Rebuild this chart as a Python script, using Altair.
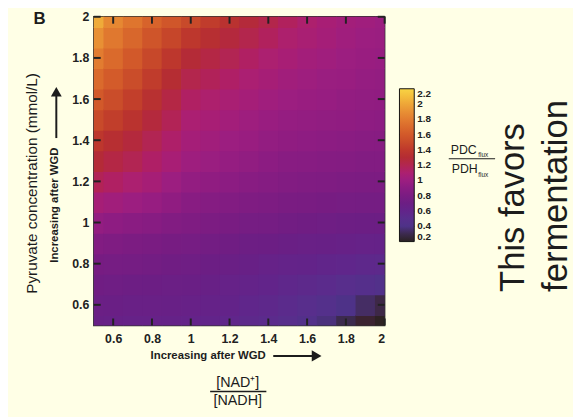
import altair as alt
import pandas as pd

FONT = "Liberation Sans"
INK = "#1c1c1c"

# [NAD+]/[NADH] (x) and pyruvate concentration mmol/L (y) grid
nad_ratio = [0.5, 0.6, 0.7, 0.8, 0.9, 1.0, 1.1, 1.2, 1.3, 1.4, 1.5, 1.6, 1.7, 1.8, 1.9, 2.0]
pyruvate = [0.5, 0.6, 0.7, 0.8, 0.9, 1.0, 1.1, 1.2, 1.3, 1.4, 1.5, 1.6, 1.7, 1.8, 1.9, 2.0]

# PDC_flux / PDH_flux; one list per NAD ratio, pyruvate ascending
ratio_by_nad = [
    [.66, .69, .73, .78, .85, .95, 1.06, 1.18, 1.29, 1.39, 1.50, 1.60, 1.70, 1.80, 1.90, 2.02],
    [.65, .68, .72, .77, .83, .92, 1.03, 1.14, 1.24, 1.33, 1.43, 1.52, 1.61, 1.70, 1.78, 1.86],
    [.64, .67, .71, .76, .81, .90, 1.00, 1.10, 1.19, 1.27, 1.36, 1.44, 1.52, 1.60, 1.68, 1.76],
    [.64, .67, .70, .75, .80, .88, .97, 1.06, 1.13, 1.19, 1.27, 1.34, 1.42, 1.49, 1.57, 1.66],
    [.63, .66, .69, .73, .78, .85, .93, 1.00, 1.07, 1.12, 1.18, 1.24, 1.31, 1.39, 1.48, 1.58],
    [.62, .65, .68, .72, .77, .83, .89, .95, 1.01, 1.05, 1.09, 1.14, 1.21, 1.29, 1.39, 1.50],
    [.60, .63, .66, .70, .75, .81, .87, .93, .99, 1.03, 1.07, 1.11, 1.17, 1.24, 1.33, 1.42],
    [.58, .61, .64, .68, .73, .79, .85, .91, .96, 1.00, 1.04, 1.08, 1.13, 1.19, 1.27, 1.35],
    [.55, .58, .62, .66, .71, .77, .83, .89, .94, .98, 1.01, 1.05, 1.09, 1.14, 1.21, 1.28],
    [.53, .56, .60, .64, .70, .76, .82, .87, .91, .95, .98, 1.02, 1.06, 1.10, 1.16, 1.22],
    [.50, .53, .57, .62, .68, .74, .80, .85, .89, .93, .96, 1.00, 1.03, 1.07, 1.11, 1.16],
    [.45, .50, .55, .61, .67, .73, .79, .84, .88, .92, .95, .98, 1.01, 1.04, 1.08, 1.11],
    [.38, .46, .53, .59, .66, .72, .78, .83, .87, .91, .94, .97, .99, 1.02, 1.05, 1.07],
    [.30, .40, .50, .58, .65, .71, .77, .82, .86, .90, .93, .95, .98, 1.00, 1.02, 1.04],
    [.25, .34, .47, .56, .64, .70, .76, .81, .85, .89, .92, .94, .96, .98, 1.00, 1.02],
    [.21, .29, .44, .55, .63, .70, .76, .81, .85, .88, .91, .93, .95, .97, .99, 1.00],
]

tick_vals = [0.6, 0.8, 1.0, 1.2, 1.4, 1.6, 1.8, 2.0]
legend_vals = [0.2, 0.4, 0.6, 0.8, 1.0, 1.2, 1.4, 1.6, 1.8, 2.0, 2.2]
legend_inner = [0.4, 0.6, 0.8, 1.0, 1.2, 1.4, 1.6, 1.8, 2.0]

stop_values = [0.2, 0.3, 0.4, 0.5, 0.6, 0.7, 0.8, 0.9, 1.0, 1.1, 1.2,
               1.3, 1.4, 1.5, 1.6, 1.7, 1.8, 1.9, 2.0, 2.1, 2.2]
stop_colors = ["#2a2222", "#3c2a4e", "#4e3288", "#582e8c", "#62248a", "#6c1e84",
               "#7a1c82", "#8a1c82", "#9c1e80", "#ac2070", "#b22650", "#b42c34",
               "#be382c", "#c84a2a", "#d2592a", "#da6a2c", "#e27c30", "#e89034",
               "#eea638", "#f4be3c", "#f8d444"]

half = 0.05
rows = []
for i, xv in enumerate(nad_ratio):
    for j, yv in enumerate(pyruvate):
        rows.append({"x": round(xv - half, 3), "x2": round(xv + half + 0.004, 3),
                     "y": round(yv - half - 0.004, 3), "y2": round(yv + half, 3),
                     "r": ratio_by_nad[i][j]})
df = pd.DataFrame(rows)

W, H = 295, 313
xscale = alt.Scale(domain=[0.5, 2.0], nice=False, zero=False)
yscale = alt.Scale(domain=[0.5, 2.0], nice=False, zero=False)
cscale = alt.Scale(domain=stop_values, range=stop_colors, clamp=True)

LEG_X, LEG_Y, LEG_LEN, LEG_T = 310, 73, 155, 15

heat = alt.Chart(df).mark_rect(clip=True).encode(
    x=alt.X("x:Q", scale=xscale, title=None,
            axis=alt.Axis(values=tick_vals, format=".1~f", ticks=False, tickSize=0, domain=False,
                          grid=False, labelFont=FONT, labelFontSize=12.5, labelFontWeight="bold",
                          labelColor="#222", labelPadding=7)),
    x2="x2:Q",
    y=alt.Y("y:Q", scale=yscale, title=None,
            axis=alt.Axis(values=tick_vals, format=".1~f", ticks=False, tickSize=0, domain=False,
                          grid=False, labelFont=FONT, labelFontSize=12.5, labelFontWeight="bold",
                          labelColor="#222", labelPadding=5)),
    y2="y2:Q",
    color=alt.Color("r:Q", title=None, scale=cscale,
                    legend=alt.Legend(orient="none", legendX=LEG_X, legendY=LEG_Y,
                                      direction="vertical", gradientLength=LEG_LEN,
                                      gradientThickness=LEG_T, values=legend_vals,
                                      format=".1~f", labelFont=FONT, labelFontSize=10,
                                      labelFontWeight="bold", labelColor="#222",
                                      labelOffset=3, labelOverlap=False,
                                      gradientStrokeColor="#111", gradientStrokeWidth=1,
                                      padding=0)),
)

tick_df = pd.DataFrame({"v": tick_vals})
tk = dict(color="#222", strokeWidth=2)
bottom_ticks = alt.Chart(tick_df).mark_rule(**tk).encode(
    x=alt.X("v:Q", scale=xscale), y=alt.value(H), y2=alt.value(H - 7))
top_ticks = alt.Chart(tick_df).mark_rule(**tk).encode(
    x=alt.X("v:Q", scale=xscale), y=alt.value(0), y2=alt.value(7))
left_ticks = alt.Chart(tick_df).mark_rule(**tk).encode(
    y=alt.Y("v:Q", scale=yscale), x=alt.value(0), x2=alt.value(7))
right_ticks = alt.Chart(tick_df).mark_rule(**tk).encode(
    y=alt.Y("v:Q", scale=yscale), x=alt.value(W), x2=alt.value(W - 7))

one = pd.DataFrame({"t": [""]})


def txt(s, x, y, **kw):
    return alt.Chart(pd.DataFrame({"t": [s]})).mark_text(font=FONT, color=INK, **kw).encode(
        text="t:N", x=alt.value(x), y=alt.value(y))


def hrule(x1, x2, y, w=2, **kw):
    return alt.Chart(one).mark_rule(color=INK, strokeWidth=w, **kw).encode(
        x=alt.value(x1), x2=alt.value(x2), y=alt.value(y))


def vrule(x, y1, y2, w=2):
    return alt.Chart(one).mark_rule(color=INK, strokeWidth=w).encode(
        x=alt.value(x), y=alt.value(y1), y2=alt.value(y2))


def head(shape, x, y, size):
    return alt.Chart(one).mark_point(shape=shape, filled=True, size=size, color=INK,
                                      opacity=1, strokeWidth=0).encode(
        x=alt.value(x), y=alt.value(y))


# colour-bar tick dashes at the legend label values
cb_dashes = [
    hrule(LEG_X, LEG_X + LEG_T, LEG_Y + LEG_LEN * (2.2 - v) / 2.0, 1.3, strokeDash=[4, 7])
    for v in legend_inner
]

annotations = [
    txt("B", -55, 2, fontSize=17, fontWeight="bold", align="center", baseline="middle"),
    txt("Pyruvate concentration (mmol/L)", -63, 169, fontSize=15.5, angle=270,
        align="center", baseline="middle"),
    txt("Increasing after WGD", -39, 191, fontSize=11.5, fontWeight="bold", angle=270,
        align="center", baseline="middle"),
    vrule(-38, 123, 80),
    head("triangle-up", -38, 76, 120),
    txt("Increasing after WGD", 116, 344, fontSize=11.5, fontWeight="bold",
        align="center", baseline="middle"),
    hrule(182, 222, 344),
    head("triangle-right", 226, 344, 130),
    txt("[NAD\u207a]", 146, 371, fontSize=14.5, align="center", baseline="middle"),
    hrule(118, 175, 380, 1.5),
    txt("[NADH]", 146, 390, fontSize=14.5, align="center", baseline="middle"),
    txt("PDC", 362, 139, fontSize=12.5, align="left", baseline="alphabetic"),
    txt("flux", 390, 142, fontSize=6.5, align="left", baseline="alphabetic"),
    hrule(360, 407, 144, 1.2),
    txt("PDH", 363, 158, fontSize=12.5, align="left", baseline="alphabetic"),
    txt("flux", 390, 162, fontSize=6.5, align="left", baseline="alphabetic"),
    txt("This favors", 436, 279, fontSize=35, angle=270, align="left", baseline="alphabetic"),
    txt("fermentation", 480, 279, fontSize=35, angle=270, align="left", baseline="alphabetic"),
]

chart = alt.layer(
    heat, bottom_ticks, top_ticks, left_ticks, right_ticks, *cb_dashes, *annotations
).properties(
    width=W, height=H,
    padding={"left": 87, "top": 6, "right": 191, "bottom": 90},
    autosize=alt.AutoSizeParams(type="none"),
).configure(
    background="#FFFFE6",
).configure_axis(
    grid=False,
).configure_view(
    stroke="#333", strokeWidth=1.5,
)

chart.save("out.html", embed_options={"renderer": "svg", "actions": False})
